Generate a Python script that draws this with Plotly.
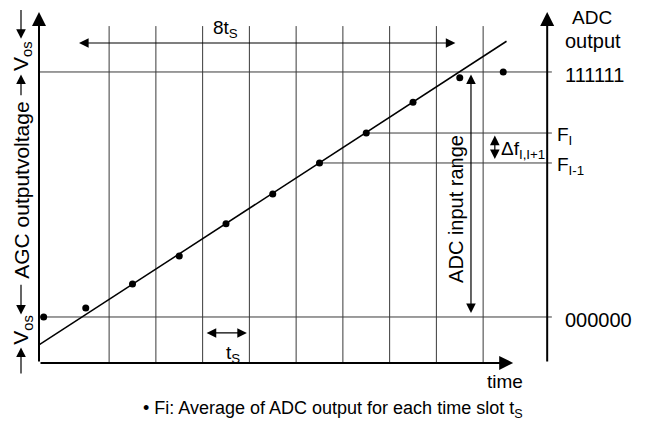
import plotly.graph_objects as go

# ---------------- data (time in units of t_S, voltage in ADC codes) ----------------
slot_times = [0.1, 1, 2, 3, 4, 5, 6, 7, 8, 9, 9.93]
adc_average = [0, 2.3, 8.5, 15.7, 24.0, 31.6, 39.6, 47.3, 55.2, 61.5, 63]
ramp_time = [0, 10]
ramp_value = [-7.2, 70.9]
slot_bounds = [1.5, 2.5, 3.5, 4.5, 5.5, 6.5, 7.5, 8.5, 9.5]
code_levels = [0, 63]
code_labels = ["000000", "111111"]
f_levels = [39.6, 47.3]
f_labels = ["F<sub>I-1</sub>", "F<sub>I</sub>"]
f_start = [6, 7]

# ---------------- frame constants ----------------
X_RANGE = [-0.663, 13.176]
Y_RANGE = [-28.03, 79.45]
AX_BOTTOM = -11.8
AX_TOP = 79.35
GRID_TOP = 74.8
RIGHT_AXIS_X = 10.87
TIME_END = 10.22
HLINE_END = 10.97
LEFT_NOTE_X = -0.385

FONT = "Liberation Sans, Arial, sans-serif"

fig = go.Figure()

# vertical slot boundaries
gx, gy = [], []
for b in slot_bounds:
    gx += [b, b, None]
    gy += [AX_BOTTOM, GRID_TOP, None]
# horizontal code levels
for lv in code_levels:
    gx += [0, HLINE_END, None]
    gy += [lv, lv, None]
for lv, st in zip(f_levels, f_start):
    gx += [st, HLINE_END, None]
    gy += [lv, lv, None]
fig.add_trace(go.Scatter(x=gx, y=gy, mode="lines",
                         line=dict(color="#3a3a3a", width=1),
                         hoverinfo="skip", showlegend=False))

# ramp (AGC output voltage)
fig.add_trace(go.Scatter(x=ramp_time, y=ramp_value, mode="lines",
                         line=dict(color="black", width=1.5),
                         showlegend=False))
# averages
fig.add_trace(go.Scatter(x=slot_times, y=adc_average, mode="markers",
                         marker=dict(color="black", size=7),
                         showlegend=False))

anns = []


def arrow(x0, y0, x1, y1, width=1.2, size=1.6, both=False):
    scale = width * size
    a = dict(x=x1, y=y1, ax=x0, ay=y0, xref="x", yref="y", axref="x", ayref="y",
             text="", showarrow=True, arrowhead=2, arrowsize=size, arrowwidth=width,
             arrowcolor="black", standoff=1.3 * scale)
    if both:
        a.update(arrowside="end+start", startarrowhead=2, startarrowsize=size,
                 startstandoff=1.3 * scale)
    anns.append(a)


# axes
arrow(0, AX_BOTTOM, 0, AX_TOP, width=2, size=1.4)
arrow(RIGHT_AXIS_X, AX_BOTTOM, RIGHT_AXIS_X, AX_TOP, width=2, size=1.4)
arrow(0, AX_BOTTOM, TIME_END, AX_BOTTOM, width=2, size=1.4)

# dimension arrows
arrow(0.77, 70.45, 8.96, 70.45, both=True)
arrow(slot_bounds[2], -4.1, slot_bounds[3], -4.1, both=True)
arrow(9.24, code_levels[0], 9.24, code_levels[1], both=True)
arrow(9.75, f_levels[0], 9.75, f_levels[1], both=True)

# V_os arrows on the left
arrow(LEFT_NOTE_X, 79.3, LEFT_NOTE_X, ramp_value[1], width=1.2, size=1.6)
arrow(LEFT_NOTE_X, 56.6, LEFT_NOTE_X, code_levels[1], width=1.2, size=1.6)
arrow(LEFT_NOTE_X, 8.7, LEFT_NOTE_X, code_levels[0], width=1.2, size=1.6)
arrow(LEFT_NOTE_X, -14.9, LEFT_NOTE_X, ramp_value[0], width=1.2, size=1.6)


def label(x, y, text, size=19, xanchor="center", yanchor="middle", angle=0, yshift=0):
    anns.append(dict(x=x, y=y, xref="x", yref="y", text=text, showarrow=False,
                     xanchor=xanchor, yanchor=yanchor, textangle=angle, yshift=yshift,
                     font=dict(family=FONT, size=size, color="black")))


label(3.99, 74.06, "8t<sub>S</sub>")
label(4.15, -9.5, "t<sub>S</sub>")
label(9.84, 42.9, "Δf<sub>I,I+1</sub>", xanchor="left")
for lv, t in zip(f_levels, f_labels):
    label(11.04, lv, t, xanchor="left", yshift=-3)
for lv, t in zip(code_levels, code_labels):
    label(11.2, lv, t, xanchor="left", yshift=-3, size=20)
label(11.83, 77.1, "ADC")
label(11.84, 71.0, "output", size=20)
label(9.97, -16.5, "time")
label(8.92, 27.8, "ADC input range", angle=-90, size=20)
label(-0.364, 67.1, "V<sub>os</sub>", angle=-90, size=21)
label(-0.364, -3.3, "V<sub>os</sub>", angle=-90, size=21)
label(-0.364, 32.7, "AGC outputvoltage", angle=-90, size=21)
label(2.18, -23.9, "• Fi: Average of ADC output for each time slot t<sub>S</sub>",
      xanchor="left", size=18)

fig.update_layout(
    width=647, height=418, autosize=False,
    margin=dict(l=0, r=0, t=0, b=0),
    paper_bgcolor="white", plot_bgcolor="white",
    xaxis=dict(range=X_RANGE, visible=False, fixedrange=True),
    yaxis=dict(range=Y_RANGE, visible=False, fixedrange=True),
    annotations=anns,
    showlegend=False,
)

fig.write_html("out.html")
